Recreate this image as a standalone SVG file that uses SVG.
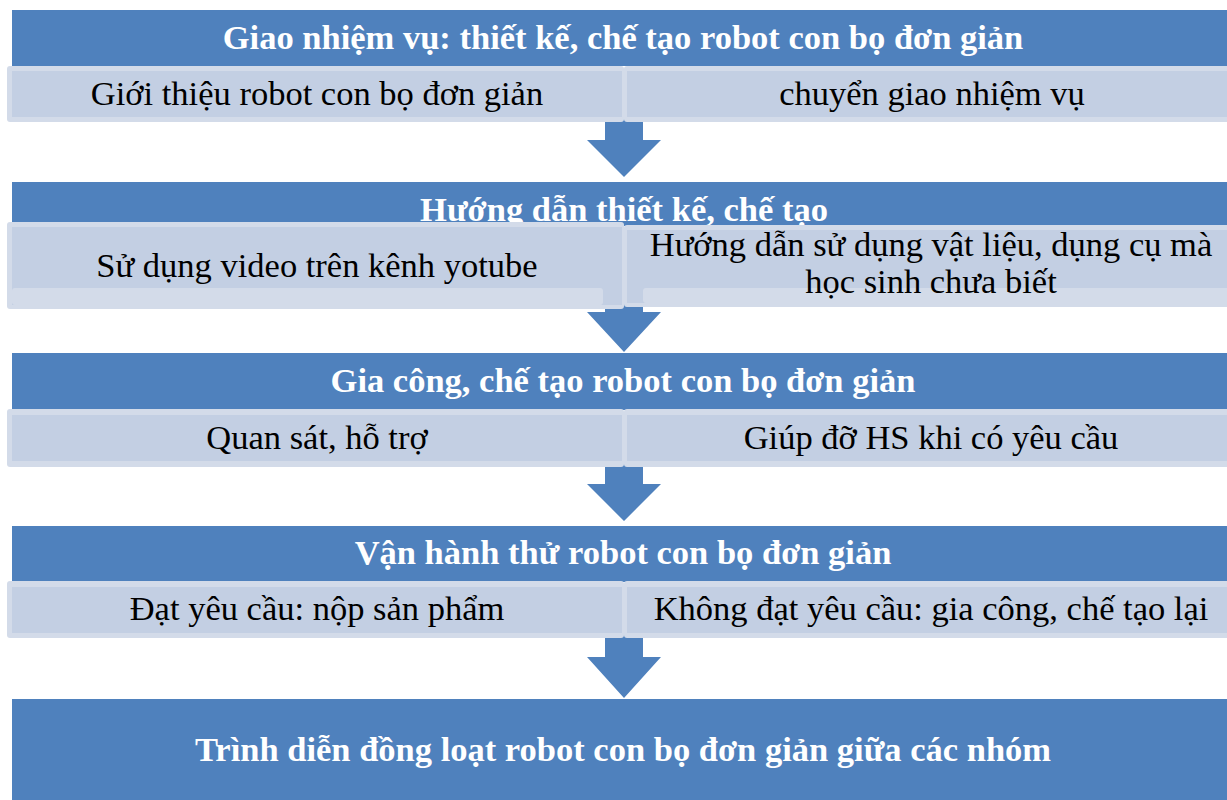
<svg xmlns="http://www.w3.org/2000/svg" width="1227" height="800" viewBox="0 0 1227 800">
<style>
.bar{fill:#4f81bd}
.title{font-family:"Liberation Serif","Times New Roman",serif;font-weight:bold;font-size:34.5px;fill:#ffffff;text-anchor:middle}
.sub{font-family:"Liberation Serif","Times New Roman",serif;font-size:34.5px;fill:#000000;text-anchor:middle}
.outer{fill:#d3dbe9}
.inner{fill:#c3cfe3}
.arrow{fill:#4f81bd}
</style>
<rect width="1227" height="800" fill="#ffffff"/>
<g id="connectors">
<path class="arrow" d="M605,118 H643 V140 H661 L624,177 L587,140 H605 Z"/>
<path class="arrow" d="M605,295 H643 V312 H661 L624,352 L587,312 H605 Z"/>
<path class="arrow" d="M605,462 H643 V484 H661 L624,521 L587,484 H605 Z"/>
<path class="arrow" d="M605,634 H643 V657 H661 L624,698 L587,657 H605 Z"/>
</g>
<g id="step1">
<rect class="bar" x="12" y="10" width="1215" height="56"/>
<text class="title" x="623" y="48.5">Giao nhiệm vụ: thiết kế, chế tạo robot con bọ đơn giản</text>
</g>
<g id="step1-left">
<rect class="outer" x="7" y="66" width="617" height="56" rx="3"/>
<rect class="inner" x="12" y="71" width="610" height="46"/>
<text class="sub" x="317" y="105">Giới thiệu robot con bọ đơn giản</text>
</g>
<g id="step1-right">
<rect class="outer" x="624" y="66" width="610" height="56" rx="3"/>
<rect class="inner" x="627" y="71" width="600" height="46"/>
<text class="sub" x="932" y="105">chuyển giao nhiệm vụ</text>
</g>
<g id="step2">
<rect class="bar" x="12" y="182" width="1215" height="44"/>
<text class="title" x="624" y="221">Hướng dẫn thiết kế, chế tạo</text>
</g>
<g id="step2-left">
<rect class="outer" x="7" y="222" width="617" height="87" rx="3"/>
<rect class="inner" x="12" y="227" width="610" height="78"/>
<rect class="outer" x="12" y="288" width="591" height="17" rx="3"/>
<text class="sub" x="317" y="277">Sử dụng video trên kênh yotube</text>
</g>
<g id="step2-right">
<rect class="outer" x="624" y="225" width="610" height="82" rx="3"/>
<rect class="inner" x="627" y="230" width="600" height="73"/>
<rect class="outer" x="643" y="288" width="590" height="15" rx="3"/>
<text class="sub" x="931" y="256">Hướng dẫn sử dụng vật liệu, dụng cụ mà</text>
<text class="sub" x="931" y="293">học sinh chưa biết</text>
</g>
<g id="step3">
<rect class="bar" x="12" y="353" width="1215" height="57"/>
<text class="title" x="623" y="392">Gia công, chế tạo robot con bọ đơn giản</text>
</g>
<g id="step3-left">
<rect class="outer" x="7" y="409" width="617" height="58" rx="3"/>
<rect class="inner" x="12" y="415" width="610" height="46"/>
<text class="sub" x="317" y="449">Quan sát, hỗ trợ</text>
</g>
<g id="step3-right">
<rect class="outer" x="624" y="409" width="610" height="58" rx="3"/>
<rect class="inner" x="627" y="415" width="600" height="46"/>
<text class="sub" x="931" y="449">Giúp đỡ HS khi có yêu cầu</text>
</g>
<g id="step4">
<rect class="bar" x="12" y="526" width="1215" height="56"/>
<text class="title" x="623" y="564">Vận hành thử robot con bọ đơn giản</text>
</g>
<g id="step4-left">
<rect class="outer" x="7" y="581" width="617" height="57" rx="3"/>
<rect class="inner" x="12" y="587" width="610" height="46"/>
<text class="sub" x="317" y="620">Đạt yêu cầu: nộp sản phẩm</text>
</g>
<g id="step4-right">
<rect class="outer" x="624" y="581" width="610" height="57" rx="3"/>
<rect class="inner" x="627" y="587" width="600" height="46"/>
<text class="sub" x="931" y="620">Không đạt yêu cầu: gia công, chế tạo lại</text>
</g>
<g id="step5">
<rect class="bar" x="12" y="699" width="1215" height="101"/>
<text class="title" x="623" y="761">Trình diễn đồng loạt robot con bọ đơn giản giữa các nhóm</text>
</g>
</svg>
